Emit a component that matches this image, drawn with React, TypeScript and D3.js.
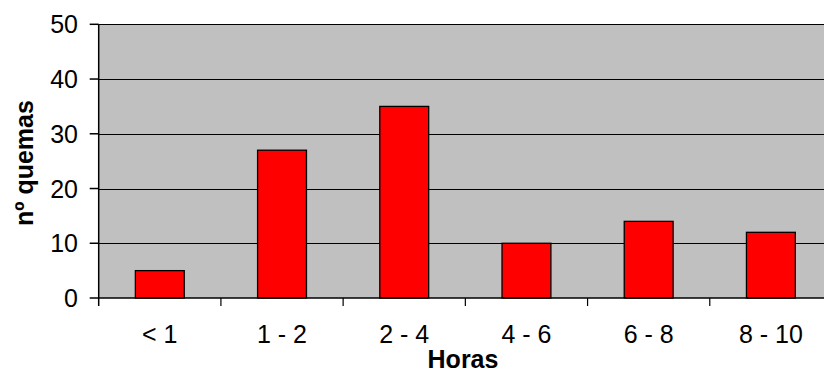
import React from "react";
import * as d3 from "d3";

const categories = ["< 1", "1 - 2", "2 - 4", "4 - 6", "6 - 8", "8 - 10"];
const values = [5, 27, 35, 10, 14, 12];
const yTicks = [0, 10, 20, 30, 40, 50];
const xTitle = "Horas";
const yTitle = "nº quemas";

export default function App() {
  const W = 824, H = 374;
  const left = 98.7, right = 832, top = 24.3, bottom = 298;
  const x = d3.scaleBand<string>().domain(categories).range([left, right]).paddingInner(0.6).paddingOuter(0.3);
  const bounds = d3.scaleBand<string>().domain(categories).range([left, right]);
  const y = d3.scaleLinear().domain([0, 50]).range([bottom, top]);
  const font = "'Liberation Sans', Arial, sans-serif";
  return (
    <svg width={W} height={H} style={{ position: "absolute", left: 0, top: 0 }} fontFamily={font}>
      <rect x={left} y={top} width={right - left} height={bottom - top} fill="#c0c0c0" />
      {yTicks.filter(t => t > 0).map(t => (
        <line key={t} x1={left} x2={right} y1={Math.round(y(t)) + 0.5} y2={Math.round(y(t)) + 0.5} stroke="#000" strokeWidth={1} />
      ))}
      {categories.map((c, i) => (
        <rect key={c} x={x(c)} y={y(values[i])} width={x.bandwidth()} height={bottom - y(values[i])}
          fill="#ff0000" stroke="#000" strokeWidth={1.3} />
      ))}
      <line x1={left} x2={left} y1={top} y2={bottom + 8} stroke="#000" strokeWidth={1.5} />
      <line x1={left} x2={right} y1={bottom} y2={bottom} stroke="#000" strokeWidth={1.5} />
      {yTicks.map(t => (
        <g key={t}>
          <line x1={left - 9} x2={left} y1={y(t)} y2={y(t)} stroke="#000" strokeWidth={1.5} />
          <text x={78} y={y(t)} dy="0.36em" textAnchor="end" fontSize={25}>{t}</text>
        </g>
      ))}
      {categories.map((c, i) => (
        <line key={"t" + c} x1={(bounds(c) as number) + bounds.bandwidth()} x2={(bounds(c) as number) + bounds.bandwidth()}
          y1={bottom} y2={bottom + 8} stroke="#000" strokeWidth={1.2} />
      ))}
      {categories.map(c => (
        <text key={"l" + c} x={(x(c) as number) + x.bandwidth() / 2} y={343} textAnchor="middle" fontSize={25}>{c}</text>
      ))}
      <text x={463} y={368} textAnchor="middle" fontSize={25} fontWeight="bold">{xTitle}</text>
      <text transform={`translate(32.5,163) rotate(-90)`} textAnchor="middle" fontSize={25} fontWeight="bold">{yTitle}</text>
    </svg>
  );
}
